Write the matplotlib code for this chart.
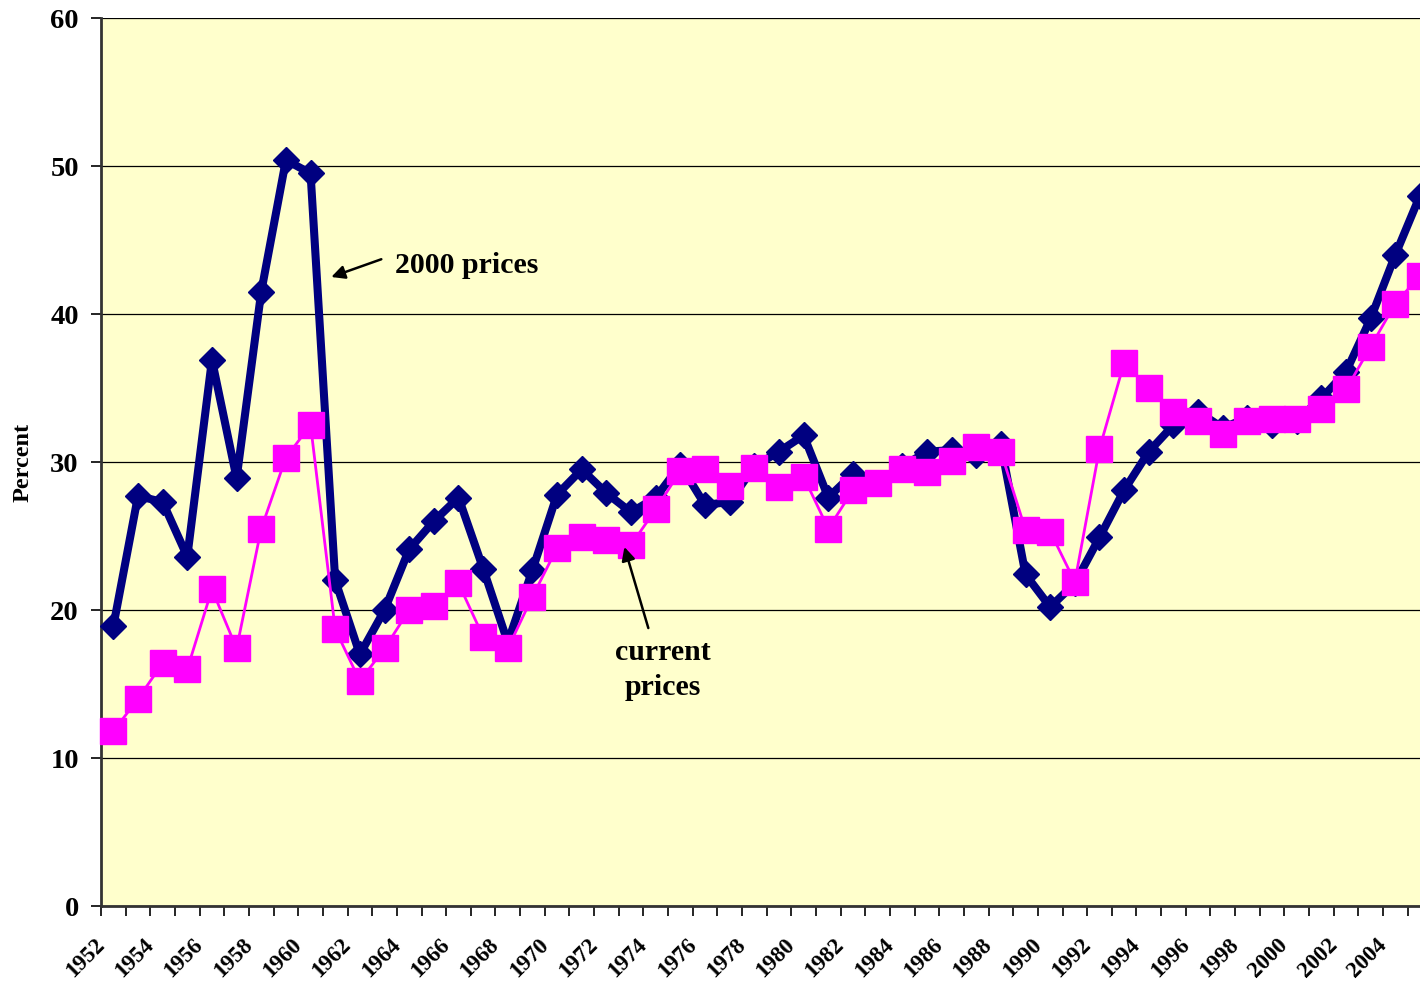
import matplotlib.pyplot as plt
from matplotlib.transforms import ScaledTranslation
import numpy as np

years = list(range(1952, 2006))

# share in 2000 prices (blue diamonds)
real_prices = [18.9, 27.7, 27.3, 23.6, 36.9, 28.9, 41.5, 50.4, 49.5, 22.0,
               17.0, 20.0, 24.1, 26.0, 27.6, 22.8, 17.8, 22.7, 27.8, 29.5,
               27.9, 26.6, 27.6, 29.8, 27.1, 27.3, 29.7, 30.7, 31.8, 27.6,
               29.2, 28.6, 29.7, 30.7, 30.8, 30.5, 31.2, 22.4, 20.2, 21.8,
               24.9, 28.1, 30.7, 32.5, 33.4, 32.3, 33.0, 32.5, 32.8, 34.3,
               36.1, 39.7, 44.0, 48.0]

# share in current prices (magenta squares)
current_prices = [11.8, 14.0, 16.4, 16.0, 21.4, 17.4, 25.5, 30.3, 32.5, 18.7,
                  15.2, 17.4, 20.0, 20.3, 21.8, 18.2, 17.4, 20.9, 24.2, 24.9,
                  24.7, 24.4, 26.8, 29.4, 29.5, 28.4, 29.6, 28.3, 29.0, 25.5,
                  28.1, 28.6, 29.5, 29.3, 30.1, 31.0, 30.7, 25.4, 25.3, 21.9,
                  30.9, 36.7, 35.0, 33.4, 32.8, 31.9, 32.8, 32.9, 32.9, 33.6,
                  34.9, 37.8, 40.7, 42.6]

plt.rcParams['font.family'] = ['Liberation Serif', 'DejaVu Serif']
plt.rcParams['font.weight'] = 'bold'

fig = plt.figure(figsize=(14.2, 9.9), dpi=100)
ax = fig.add_axes([101 / 1420, 1 - 906 / 990, 1 - 101 / 1420, (906 - 18) / 990])
ax.set_facecolor('#FFFFCC')

x = np.arange(len(years))
ax.plot(x, real_prices, color='#000080', lw=5.8, marker='D', ms=13.5, zorder=3,
        clip_on=False)
ax.plot(x, current_prices, color='#FF00FF', lw=2, marker='s', ms=18.5, zorder=4,
        clip_on=False)

ax.set_yticks(range(0, 61, 10))
ax.tick_params(axis='y', labelsize=20.5, length=7, width=1.2, direction='out', pad=9)
ax.yaxis.grid(True, color='black', lw=0.9)
ax.set_axisbelow(True)

ax.set_xticks(np.arange(-0.5, len(years) - 0.5, 1))
ax.set_xticklabels([])
ax.tick_params(axis='x', which='major', length=7, width=1.2, direction='out')
lab_pos = x[::2]
ax.set_xticks(lab_pos, minor=True)
ax.set_xticklabels([str(years[i]) for i in lab_pos], minor=True, rotation=45,
                   ha='right', va='center', rotation_mode='anchor', fontsize=16.5)
ax.tick_params(axis='x', which='minor', length=0, pad=26)
shift = ScaledTranslation(-12 / 100, 0, fig.dpi_scale_trans)
for lbl in ax.get_xticklabels(minor=True):
    lbl.set_transform(lbl.get_transform() + shift)

# limits after ticks so set_xticks cannot widen them
ax.set_ylim(0, 60)
ax.set_xlim(-0.5, len(years) - 1.0)

for s in ['top', 'right']:
    ax.spines[s].set_visible(False)
for s in ['left', 'bottom']:
    ax.spines[s].set_color('#333333')
    ax.spines[s].set_linewidth(2)

fig.text(23 / 1420, 1 - 462 / 990, 'Percent', rotation=90, fontsize=17.5,
         ha='center', va='center')

ax.annotate('', xy=(8.84, 42.5), xytext=(10.87, 43.7), zorder=6,
            arrowprops=dict(arrowstyle='-|>', color='black', lw=1.8,
                            mutation_scale=20, shrinkA=0, shrinkB=0))
ax.text(11.44, 42.77, '2000 prices', fontsize=21.5, ha='left', va='baseline',
        zorder=6)

ax.annotate('', xy=(20.73, 24.26), xytext=(21.70, 18.78), zorder=6,
            arrowprops=dict(arrowstyle='-|>', color='black', lw=1.8,
                            mutation_scale=20, shrinkA=0, shrinkB=0))
ax.text(22.27, 14.26, 'current\nprices', fontsize=21.5, ha='center',
        va='baseline', linespacing=1.4, multialignment='center', zorder=6)

fig.savefig('out.png', dpi=100)
